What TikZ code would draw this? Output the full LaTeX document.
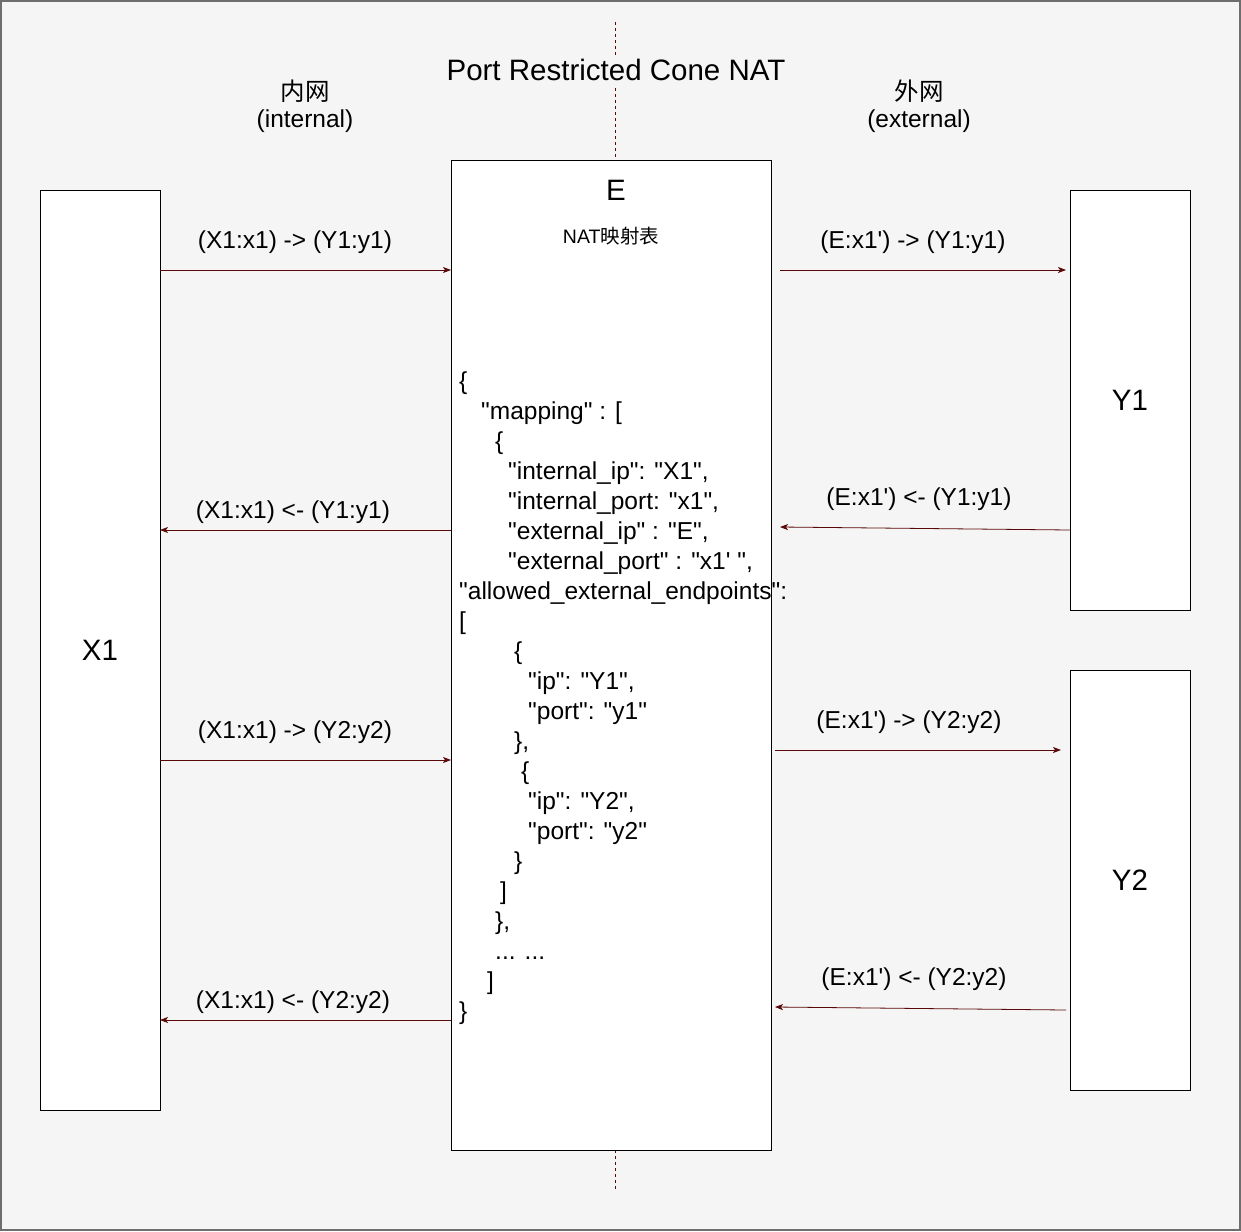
\documentclass[tikz,border=0pt]{standalone}
\usepackage{fontspec}
\setmainfont{Liberation Sans}[Ligatures=TeXOff]
\newfontfamily\cjk{Noto Sans CJK SC}
\usetikzlibrary{arrows.meta}
\definecolor{bg}{HTML}{F5F5F5}
\definecolor{frame}{HTML}{6E6E6E}
\definecolor{wire}{HTML}{5A0808}
\newcommand{\us}{\_}
\begin{document}
\begin{tikzpicture}[x=1pt,y=-1pt,
  box/.style={draw=black, fill=white, line width=0.9pt, inner sep=0pt, outer sep=0pt},
  big/.style={font=\fontsize{29.5}{34}\selectfont, inner sep=0pt},
  lbl/.style={font=\fontsize{24.5}{29}\selectfont, inner sep=0pt},
  code/.style={font=\fontsize{24.5}{29}\selectfont, inner sep=0pt, anchor=base west},
  msg/.style={draw=wire, line width=0.8pt, -{Stealth[length=8pt,width=6pt,inset=2pt]}},
  axis/.style={draw=wire, line width=0.8pt, dash pattern=on 3pt off 3pt}]

% canvas and frame
\fill[bg] (0,0) rectangle (1241,1231);
\useasboundingbox (0,0) rectangle (1241,1231);
\draw[frame, line width=1.6pt] (0.8,0.8) rectangle (1240.2,1230.2);

% centre divider between the two networks
\coordinate (axtop) at (615,22);
\coordinate (axbot) at (615,1190);
\draw[axis] (axtop) -- (axbot);

\node[big, fill=bg, inner ysep=4pt] (title) at (616,70) {Port Restricted Cone NAT};
\node[lbl] (inner) at (305,91) {\cjk 内网};
\node[lbl] (innerEn) at (305,121.5) {(internal)};
\node[lbl] (outer) at (919,91) {\cjk 外网};
\node[lbl] (outerEn) at (919,121.5) {(external)};

% hosts and the NAT device
\node[box, minimum width=120pt, minimum height=920pt] (X1) at (100,650) {};
\node[box, minimum width=320pt, minimum height=990pt] (E) at (611,655) {};
\node[box, minimum width=120pt, minimum height=420pt] (Y1) at (1130,400) {};
\node[box, minimum width=120pt, minimum height=420pt] (Y2) at (1130,880) {};

\node[big] (X1name) at (X1.center) {X1};
\node[big] (Y1name) at (Y1.center) {Y1};
\node[big] (Y2name) at (Y2.center) {Y2};
\node[big] (Ename) at (616,190) {E};
\node[font=\fontsize{19.5}{23}\selectfont, inner sep=0pt] (Etable) at (611,236) {NAT{\cjk 映射表}};

% mapping table
\node[code] (j1)  at (459,389) {\{};
\node[code] (j2)  at (481,419) {"mapping" : [};
\node[code] (j3)  at (495,449) {\{};
\node[code] (j4)  at (508,479) {"internal\us ip": "X1",};
\node[code] (j5)  at (508,509) {"internal\us port: "x1",};
\node[code] (j6)  at (508,539) {"external\us ip" : "E",};
\node[code] (j7)  at (508,569) {"external\us port" : "x1' ",};
\node[code] (j8)  at (459,599) {"allowed\us external\us endpoints":};
\node[code] (j9)  at (459,629) {[};
\node[code] (j10) at (514,659) {\{};
\node[code] (j11) at (528,689) {"ip": "Y1",};
\node[code] (j12) at (528,719) {"port": "y1"};
\node[code] (j13) at (514,749) {\},};
\node[code] (j14) at (521,779) {\{};
\node[code] (j15) at (528,809) {"ip": "Y2",};
\node[code] (j16) at (528,839) {"port": "y2"};
\node[code] (j17) at (514,869) {\}};
\node[code] (j18) at (500,899) {]};
\node[code] (j19) at (495,929) {\},};
\node[code] (j20) at (495,959) {... ...};
\node[code] (j21) at (487,989) {]};
\node[code] (j22) at (459,1019) {\}};

% message end points on the right-hand side
\coordinate (r1s) at (780,270);  \coordinate (r1e) at (1066,270);
\coordinate (r2e) at (780,527);
\coordinate (r3s) at (775,750);  \coordinate (r3e) at (1061,750);
\coordinate (r4s) at (1066,1010); \coordinate (r4e) at (775,1007);

% messages between X1 and E
\draw[msg] (X1.east |- 0,270) -- (E.west |- 0,270);
\draw[msg] (E.west |- 0,530) -- (X1.east |- 0,530);
\draw[msg] (X1.east |- 0,760) -- (E.west |- 0,760);
\draw[msg] (E.west |- 0,1020) -- (X1.east |- 0,1020);

% messages between E and the external hosts
\draw[msg] (r1s) -- (r1e);
\draw[msg] (Y1.west |- 0,530) -- (r2e);
\draw[msg] (r3s) -- (r3e);
\draw[msg] (r4s) -- (r4e);

\node[lbl] (m1) at (295,242.5) {(X1:x1) -> (Y1:y1)};
\node[lbl] (m2) at (293,512.5) {(X1:x1) <- (Y1:y1)};
\node[lbl] (m3) at (295,732.5) {(X1:x1) -> (Y2:y2)};
\node[lbl] (m4) at (293,1002.5) {(X1:x1) <- (Y2:y2)};
\node[lbl] (m5) at (913,242.5) {(E:x1') -> (Y1:y1)};
\node[lbl] (m6) at (919,499.5) {(E:x1') <- (Y1:y1)};
\node[lbl] (m7) at (909,722.5) {(E:x1') -> (Y2:y2)};
\node[lbl] (m8) at (914,979.5) {(E:x1') <- (Y2:y2)};
\end{tikzpicture}
\end{document}
